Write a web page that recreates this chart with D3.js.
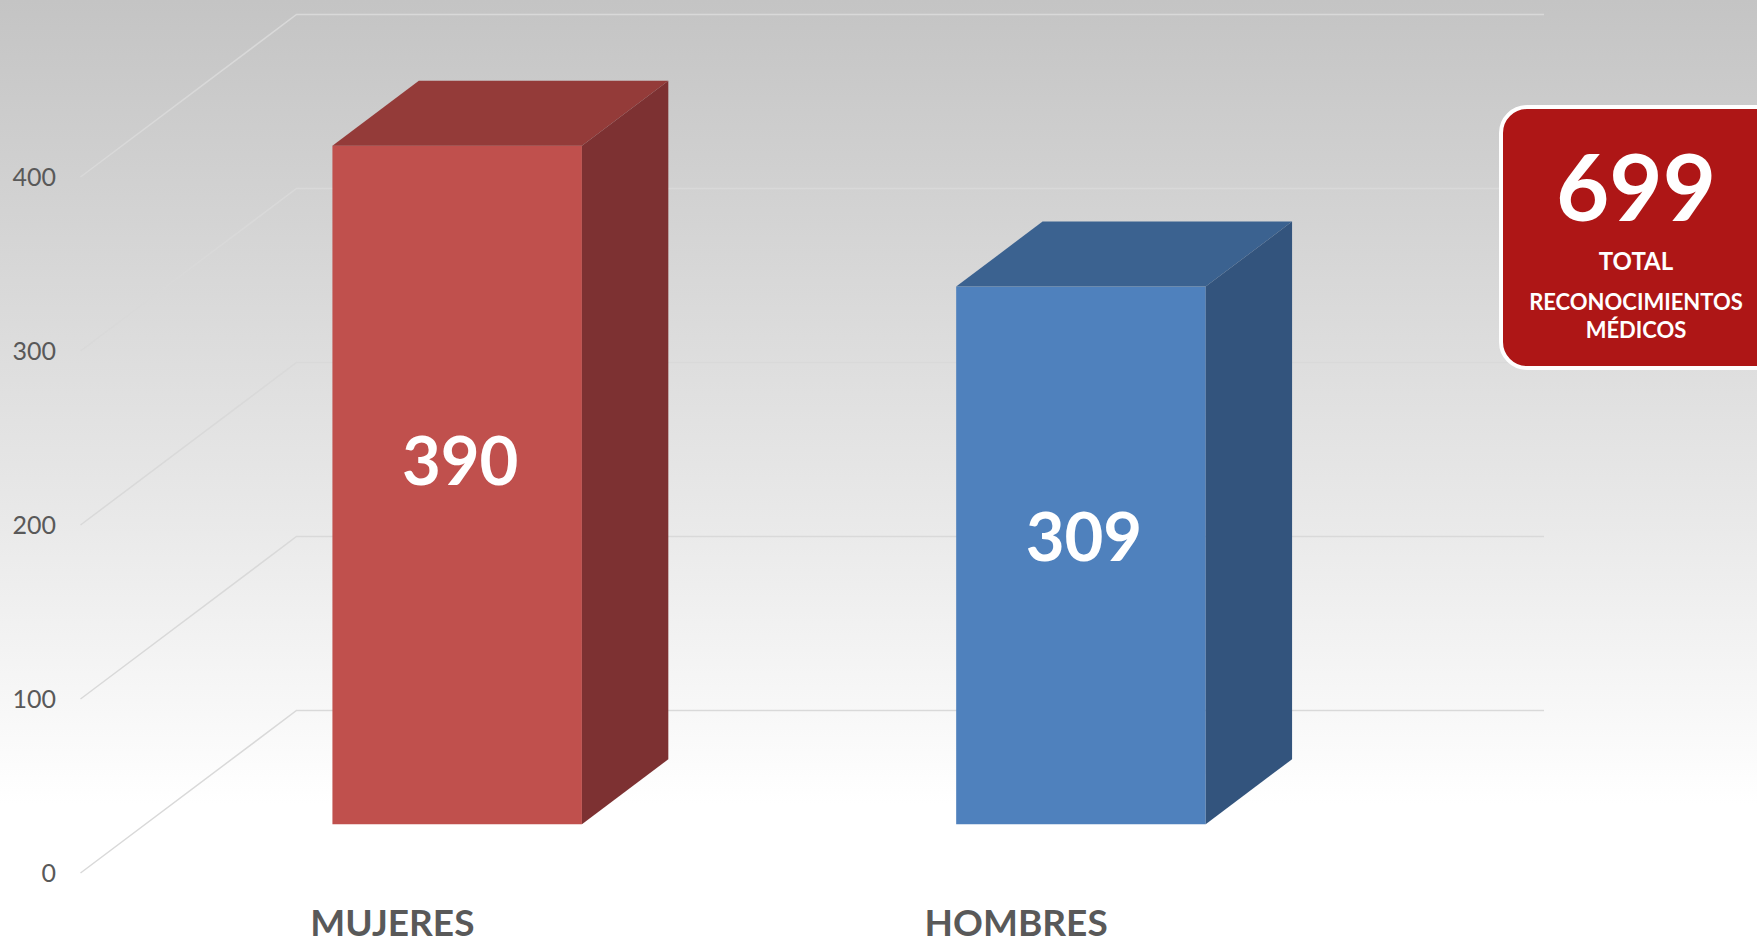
<!DOCTYPE html>
<html>
<head>
<meta charset="utf-8">
<script src="https://cdn.jsdelivr.net/npm/d3@7"></script>
<style>
  html, body { margin: 0; padding: 0; overflow: hidden; }
  svg { display: block; font-family: Lato, "Open Sans", sans-serif; }
</style>
</head>
<body>
<svg id="chart"></svg>
<script>
// chart data
const categories = ["MUJERES", "HOMBRES"];
const values = [390, 309];
const yTicks = [0, 100, 200, 300, 400];
const frontColors = ["#C0504D", "#4F81BD"];
const topColors = ["#943B39", "#3B6290"];
const sideColors = ["#7D3132", "#33547D"];
const totalLines = ["TOTAL", "RECONOCIMIENTOS", "MÉDICOS"];

const w = 1757;
const h = 946;

// oblique 3d: a full depth step moves right and up
const depthX = 216;
const depthY = 162.5;
const barDepth0 = 0.3;
const barDepth1 = 0.7;
const leftX = 80.5;
const backRight = 1544;

const svg = d3.select("#chart")
  .attr("width", w)
  .attr("height", h);

// background gradient
const defs = svg.append("defs");
const grad = defs.append("linearGradient")
  .attr("id", "bg")
  .attr("x1", 0).attr("y1", 0)
  .attr("x2", 0).attr("y2", 1);
grad.append("stop").attr("offset", 0).attr("stop-color", "#C4C4C4");
grad.append("stop").attr("offset", 0.55).attr("stop-color", "#E9E9E9");
grad.append("stop").attr("offset", 0.85).attr("stop-color", "#FFFFFF");
grad.append("stop").attr("offset", 1).attr("stop-color", "#FFFFFF");

svg.append("rect")
  .attr("width", w)
  .attr("height", h)
  .attr("fill", "url(#bg)");

const yScale = d3.scaleLinear().domain([0, 400]).range([873, 177]);
const xScale = d3.scaleBand()
  .domain(categories)
  .range([leftX, backRight - depthX])
  .paddingInner(0.6)
  .paddingOuter(0.3);

// gridlines: side wall diagonal + back wall line
svg.append("g")
  .selectAll("polyline")
  .data(yTicks)
  .enter()
  .append("polyline")
  .attr("points", d => {
    const y = yScale(d);
    return [[leftX, y], [leftX + depthX, y - depthY], [backRight, y - depthY]].join(" ");
  })
  .attr("fill", "none")
  .attr("stroke", "#D9D9D9")
  .attr("stroke-width", 1.5);

// y axis labels
const axisY = d3.axisLeft(yScale).tickValues(yTicks).tickSize(0).tickPadding(10);
const gy = svg.append("g")
  .attr("transform", "translate(66,0)")
  .call(axisY);
gy.select(".domain").remove();
gy.selectAll("text")
  .attr("fill", "#595959")
  .style("font-family", "Lato, sans-serif")
  .style("font-size", "25px");

// bars
const dx0 = barDepth0 * depthX, dy0 = barDepth0 * depthY;
const dx = (barDepth1 - barDepth0) * depthX, dy = (barDepth1 - barDepth0) * depthY;
const bw = xScale.bandwidth();

const bars = svg.append("g")
  .selectAll("g")
  .data(values)
  .enter()
  .append("g");

bars.each(function(v, i) {
  const g = d3.select(this);
  const x0 = xScale(categories[i]) + dx0;
  const x1 = x0 + bw;
  const yb = yScale(0) - dy0;
  const yt = yScale(v) - dy0;

  g.append("rect")
    .attr("x", x0)
    .attr("y", yt)
    .attr("width", bw)
    .attr("height", yb - yt)
    .attr("fill", frontColors[i]);

  g.append("polygon")
    .attr("points", [[x0, yt], [x1, yt], [x1 + dx, yt - dy], [x0 + dx, yt - dy]].join(" "))
    .attr("fill", topColors[i]);

  g.append("polygon")
    .attr("points", [[x1, yt], [x1 + dx, yt - dy], [x1 + dx, yb - dy], [x1, yb]].join(" "))
    .attr("fill", sideColors[i]);

  g.append("text")
    .attr("x", x0 + bw / 2 + 3)
    .attr("y", yScale(v * 0.535) - dy0)
    .attr("dy", "0.36em")
    .attr("text-anchor", "middle")
    .attr("fill", "#FFFFFF")
    .style("font-weight", "bold")
    .style("font-size", "67px")
    .text(v);
});

// category labels
const axisX = d3.axisBottom(xScale).tickSize(0).tickPadding(0);
const gx = svg.append("g")
  .attr("transform", "translate(0,936)")
  .call(axisX);
gx.select(".domain").remove();
gx.selectAll("text")
  .attr("dy", 0)
  .attr("y", 0)
  .attr("fill", "#595959")
  .style("font-family", "Lato, sans-serif")
  .style("font-weight", "bold")
  .style("font-size", "37px");

// total box
const box = svg.append("g");
box.append("rect")
  .attr("x", 1501)
  .attr("y", 107)
  .attr("width", 290)
  .attr("height", 261)
  .attr("rx", 26)
  .attr("fill", "#AE1616")
  .attr("stroke", "#FFFFFF")
  .attr("stroke-width", 4);

box.append("text")
  .attr("x", 1636)
  .attr("y", 221)
  .attr("text-anchor", "middle")
  .attr("fill", "#FFFFFF")
  .style("font-weight", "bold")
  .style("font-size", "92px")
  .text(d3.sum(values));

box.selectAll("text.lbl")
  .data(totalLines)
  .enter()
  .append("text")
  .attr("class", "lbl")
  .attr("x", 1636)
  .attr("y", (d, i) => [270, 310, 338][i])
  .attr("text-anchor", "middle")
  .attr("fill", "#FFFFFF")
  .style("font-weight", "bold")
  .style("font-size", (d, i) => i === 0 ? "24px" : "22px")
  .text(d => d);
</script>
</body>
</html>
